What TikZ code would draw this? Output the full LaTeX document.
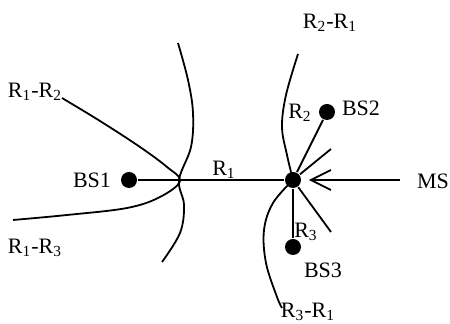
\documentclass[tikz,border=0pt]{standalone}
\usepackage{fontspec}
\setmainfont{Liberation Serif}
\usetikzlibrary{arrows.meta,positioning}

\begin{document}
\begin{tikzpicture}[x=0.5pt,y=-0.5pt,line width=0.9pt,>={Straight Barb[length=10pt,width=10pt]}]
\tikzstyle{bsdot}=[circle,fill=black,draw=none,inner sep=0pt,minimum size=8pt]
\tikzstyle{lbl}=[inner sep=0pt,font=\fontsize{11pt}{13pt}\selectfont]
\useasboundingbox (0,0) rectangle (450,324);
% stations
\node[bsdot] (bs1) at (129,180) {};
\node[bsdot] (ms) at (293,180) {};
\node[bsdot] (bs2) at (327,112) {};
\node[bsdot] (bs3) at (293,247) {};
\coordinate (stuba) at (331,149);
\coordinate (stubb) at (331,232);
\coordinate (msin) at (400,180);
% labels
\node[lbl] (lbs1) at (92,180) {BS1};
\node[lbl] (lbs2) at (361,108) {BS2};
\node[lbl] (lbs3) at (323,270) {BS3};
\node[lbl] (lms) at (433,181) {MS};
\node[lbl] (lr1) at (224,170) {R\textsubscript{1}};
\node[lbl] (lr2) at (300,113) {R\textsubscript{2}};
\node[lbl] (lr3) at (306,232) {R\textsubscript{3}};
\node[lbl] (lr21) at (330,23) {R\textsubscript{2}-R\textsubscript{1}};
\node[lbl] (lr12) at (35,92) {R\textsubscript{1}-R\textsubscript{2}};
\node[lbl] (lr13) at (35,248) {R\textsubscript{1}-R\textsubscript{3}};
\node[lbl] (lr31) at (308,312) {R\textsubscript{3}-R\textsubscript{1}};
% ranges
\draw (bs1) -- (ms);
\draw (ms) -- (bs2);
\draw (ms) -- (bs3);
\draw (ms) -- (stuba);
\draw (ms) -- (stubb);
\draw[->,shorten >=3.5pt] (msin) -- (ms);
% hyperbolas
\draw plot[smooth,tension=0.6] coordinates {(178,43) (188,80) (193,113) (191,147) (179,180) (184,205) (180,233) (162,262)};
\draw plot[smooth,tension=0.6] coordinates {(62,98) (100,121) (140,147) (167,167) (180,181) (160,197) (127,208) (67,215) (13,220)};
\draw plot[smooth,tension=0.6] coordinates {(298,54) (286,95) (282,127) (287,155) (293,180)};
\draw plot[smooth,tension=0.6] coordinates {(293,180) (273,203) (264,230) (266,263) (277,297) (282,308)};
\end{tikzpicture}
\end{document}
